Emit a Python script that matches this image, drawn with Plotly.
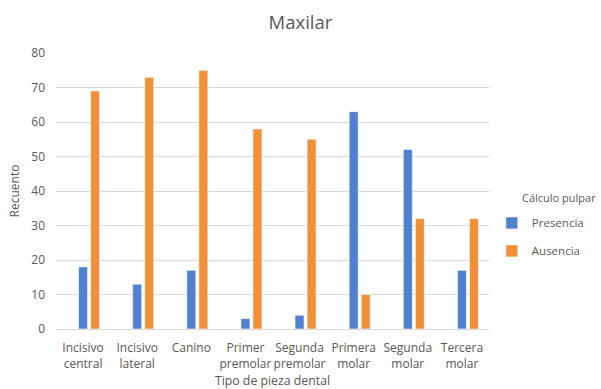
import plotly.graph_objects as go

categories = ["Incisivo<br>central", "Incisivo<br>lateral", "Canino", "Primer<br>premolar",
              "Segunda<br>premolar", "Primera<br>molar", "Segunda<br>molar", "Tercera<br>molar"]
presencia = [18, 13, 17, 3, 4, 63, 52, 17]
ausencia = [69, 73, 75, 58, 55, 10, 32, 32]
y_ticks = [0, 10, 20, 30, 40, 50, 60, 70, 80]

blue = "#4F81CF"
orange = "#F0903B"
grey = "#595959"
font = "Open Sans"

fig = go.Figure()
# empty leading series (cluster offset as in source)
fig.add_trace(go.Bar(x=categories, y=[None] * len(categories), showlegend=False,
                     hoverinfo="skip", legendgroup="e"))
fig.add_trace(go.Bar(x=categories, y=presencia, name="Presencia", marker_color=blue,
                     marker_line=dict(color="white", width=0.6), legendgroup="a"))
fig.add_trace(go.Bar(x=categories, y=ausencia, name="Ausencia", marker_color=orange,
                     marker_line=dict(color="white", width=0.6), legendgroup="b"))

fig.update_layout(
    width=601, height=389,
    margin=dict(l=56, r=112, t=53, b=60, autoexpand=False),
    paper_bgcolor="white", plot_bgcolor="white",
    font=dict(family=font, size=11, color=grey),
    title=dict(text="Maxilar", x=0.5, xref="container", xanchor="center",
               y=0.943, yref="container", yanchor="middle",
               font=dict(size=18.5, color=grey, family=font)),
    barmode="group", bargap=0.333, bargroupgap=0.25,
    legend=dict(x=1.0065, xanchor="left", y=0.437, yanchor="top",
                traceorder="grouped", tracegroupgap=9,
                font=dict(size=11.5, color=grey), itemwidth=30),
    annotations=[dict(text="Cálculo pulpar", xref="paper", yref="paper",
                      x=1.072, y=0.478, xanchor="left", yanchor="middle",
                      showarrow=False, font=dict(size=11, color=grey))],
    xaxis=dict(title=dict(text="Tipo de pieza dental", font=dict(size=12.3, color=grey), standoff=6),
               showgrid=False, showline=False, ticks="", ticklabelstandoff=10,
               tickfont=dict(size=12, color=grey)),
    yaxis=dict(title=dict(text="Recuento", font=dict(size=12, color=grey), standoff=9),
               range=[0, 80], tickvals=y_ticks, showgrid=True, gridcolor="#D9D9D9", gridwidth=1,
               zeroline=True, zerolinecolor="#D9D9D9", zerolinewidth=1,
               showline=False, ticks="", ticklabelstandoff=10,
               tickfont=dict(size=12, color=grey)),
)

fig.write_html("out.html")
